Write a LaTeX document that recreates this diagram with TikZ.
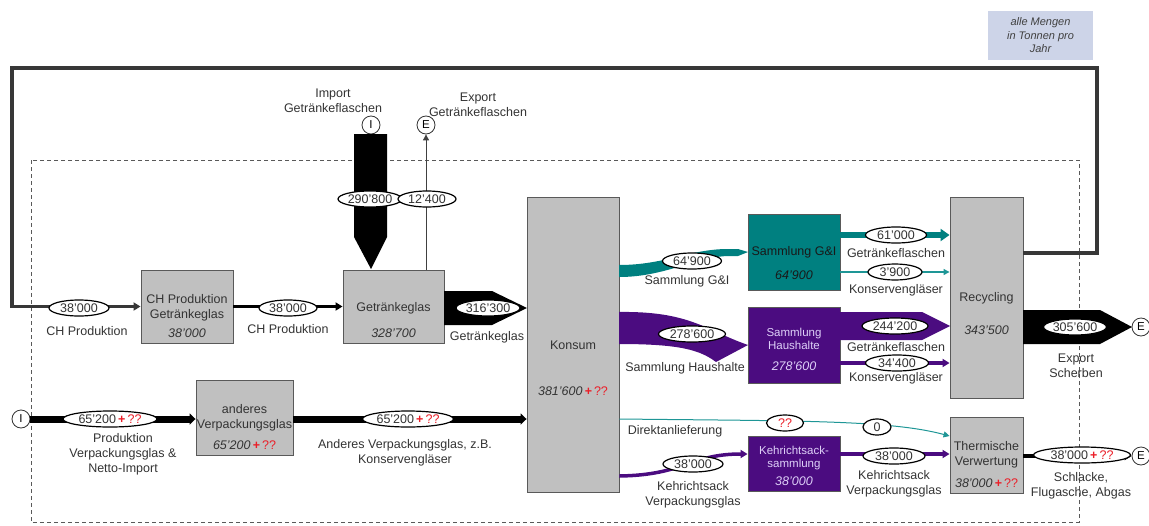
\documentclass[tikz,border=0pt]{standalone}
\usepackage{fontspec}
\setmainfont{Liberation Sans}
\usetikzlibrary{shapes.geometric,arrows.meta}
\definecolor{tealc}{RGB}{0,128,128}
\definecolor{teall}{RGB}{30,150,150}
\definecolor{purp}{RGB}{75,12,128}
\definecolor{boxgray}{RGB}{192,192,192}
\definecolor{loopc}{RGB}{55,55,55}
\definecolor{qred}{RGB}{235,30,40}
\definecolor{legbg}{RGB}{205,212,232}
\definecolor{lav}{RGB}{222,208,248}
\newcommand{\plusq}{\,{\color{qred}\textbf{+}\,\textup{??}}}
\begin{document}
\begin{tikzpicture}[x=1pt,y=-1pt,
 every node/.style={inner sep=0pt, font=\fontsize{12.5}{15}\selectfont},
 graybox/.style={draw=black!65, fill=boxgray, line width=0.9pt},
 tealbox/.style={draw=black!65, fill=tealc, line width=0.9pt},
 purpbox/.style={draw=black!65, fill=purp, line width=0.9pt},
 val/.style={ellipse, draw=black, fill=white, line width=1.2pt, minimum height=16pt, text=black!80},
 term/.style={circle, draw=black!80, fill=white, line width=0.8pt, minimum size=18pt, font=\fontsize{11.5}{12}\selectfont},
 lbl/.style={align=center, text=black!80},
 num/.style={font=\fontsize{12.5}{15}\selectfont\itshape, text=black!80},
 small/.style={align=center, font=\fontsize{11.5}{13}\selectfont, text=lav},
 tip/.style={-{Triangle[length=7pt,width=8pt]}},
 thintip/.style={-{Triangle[length=6pt,width=6pt]}},
]
\useasboundingbox (0,0) rectangle (1149,525);
% system boundary
\draw[black!65, line width=0.9pt, dash pattern=on 4pt off 3pt] (31,160) rectangle (1079,522);
% legend
\node[fill=legbg, minimum width=105pt, minimum height=49pt, align=center,
      font=\fontsize{11}{13.5}\selectfont\itshape, text=black!75] (legend) at (1040.5,35.5)
      {alle Mengen\\in Tonnen pro\\Jahr};
% boxes
\node[graybox, minimum width=92pt, minimum height=73pt] (chp) at (187,306.5) {};
\node[graybox, minimum width=101pt, minimum height=73pt] (gg) at (393.5,306.5) {};
\node[graybox, minimum width=97pt, minimum height=75pt] (ander) at (244.5,417.5) {};
\node[graybox, minimum width=92pt, minimum height=295pt] (kons) at (573,344.5) {};
\node[tealbox, minimum width=92pt, minimum height=76pt] (sgi) at (794,252) {};
\node[purpbox, minimum width=92pt, minimum height=76pt] (shh) at (794,345) {};
\node[purpbox, minimum width=92pt, minimum height=55pt] (kss) at (794,463.5) {};
\node[graybox, minimum width=73pt, minimum height=201pt] (rec) at (986.5,297.5) {};
\node[graybox, minimum width=73pt, minimum height=76pt] (therm) at (986.5,455) {};
% terminals
\node[term] (impI) at (371,125) {I};
\node[term] (expE) at (426,125) {E};
\node[term] (expE2) at (1141,327) {E};
\node[term] (expE3) at (1141,456) {E};
\node[term] (impI2) at (21,419) {I};
% level coordinates
\coordinate (lpA) at (1097,253);
\coordinate (lpB) at (1097,68);
\coordinate (lpC) at (12,68);
\coordinate (yGIa) at (0,235);
\coordinate (yGIb) at (0,272);
\coordinate (yHHb) at (0,363);
\coordinate (yDa) at (0,419);
\coordinate (yDb) at (0,436);
\coordinate (yKa) at (0,476);
\coordinate (yKb) at (0,454);
% recycling loop
\draw[loopc, line width=3.8pt, tip] (rec.east |- lpA) -- (lpA) -- (lpB) -- (lpC) -- (lpC |- chp.west) -- (chp.west);
% CH production -> Getraenkeglas
\draw[line width=3.8pt, tip] (chp.east) -- (gg.west);
% import block
\fill (354,134) -- (387,134) -- (387,237) -- (371,269) -- (354,237) -- cycle;
% export
\draw[black!75, line width=0.9pt, thintip] (gg.north -| expE) -- (expE.south);
% Getraenkeglas -> Konsum
\fill (444,291) -- (492,291) -- (527,308) -- (492,325) -- (444,325) -- cycle;
% Konsum -> Sammlung G&I
\fill[tealc] (619,265) .. controls (665,265) and (690,249) .. (728,249) -- (738,249)
   -- (748,252) -- (738,256) -- (728,256) .. controls (695,257) and (665,277) .. (619,277) -- cycle;
% Konsum -> Sammlung Haushalte
\fill[purp] (619,312) .. controls (690,311) and (705,330) .. (748,345) -- (716,362)
   .. controls (700,350) and (680,344) .. (619,344) -- cycle;
% G&I -> Recycling
\draw[tealc, line width=6pt, -{Triangle[length=9pt,width=12pt]}] (sgi.east |- yGIa) -- (rec.west |- yGIa);
\draw[teall, line width=1.2pt, thintip] (sgi.east |- yGIb) -- (rec.west |- yGIb);
% Haushalte -> Recycling
\fill[purp] (840,312) -- (922,312) -- (950,326) -- (922,340) -- (840,340) -- cycle;
\draw[purp, line width=3.5pt, tip] (shh.east |- yHHb) -- (rec.west |- yHHb);
% Recycling -> Export Scherben
\fill (1023,310) -- (1100,310) -- (1132,327) -- (1100,344) -- (1023,344) -- cycle;
% Direktanlieferung
\draw[teall, line width=1pt, thintip] (kons.east |- yDa) .. controls (800,421) and (890,420) .. (therm.west |- yDb);
% Kehrichtsack
\draw[purp, line width=3.5pt, tip] (kons.east |- yKa) .. controls (685,475) and (690,454) .. (kss.west |- yKb);
\draw[purp, line width=3.5pt, tip] (kss.east |- yKb) -- (therm.west |- yKb);
% Thermische -> E
\draw[line width=3.8pt, tip] (therm.east |- expE3) -- (expE3.west);
% other packaging glass
\draw[line width=7pt, -{Triangle[length=6pt,width=11pt]}] (impI2.east) -- (ander.west |- impI2);
\draw[line width=7pt, -{Triangle[length=6pt,width=11pt]}] (ander.east |- impI2) -- (kons.west |- impI2);
% value ellipses
\node[val, minimum width=60pt] (v1) at (79,308) {38’000};
\node[val, minimum width=58pt] (v2) at (288,308) {38’000};
\node[val, minimum width=64pt] (v3) at (370,199) {290’800};
\node[val, minimum width=58pt] (v4) at (427,199) {12’400};
\node[val, minimum width=64pt] (v5) at (488,308) {316’300};
\node[val, minimum width=59pt] (v6) at (692,261) {64’900};
\node[val, minimum width=67pt] (v7) at (692,334) {278’600};
\node[val, minimum width=61pt] (v8) at (896,235) {61’000};
\node[val, minimum width=54pt] (v9) at (895,272) {3’900};
\node[val, minimum width=66pt] (v10) at (895,326) {244’200};
\node[val, minimum width=63pt] (v11) at (897,363) {34’400};
\node[val, minimum width=54pt] (v12) at (1075,327) {305’600};
\node[val, minimum width=37pt] (v13) at (785,423) {\color{qred}??};
\node[val, minimum width=28pt] (v14) at (877,427) {0};
\node[val, minimum width=60pt] (v15) at (693,464) {38’000};
\node[val, minimum width=62pt] (v16) at (894,456) {38’000};
\node[val, minimum width=97pt] (v17) at (1082,455) {38’000\plusq};
\node[val, minimum width=94pt] (v18) at (110,419) {65’200\plusq};
\node[val, minimum width=91pt] (v19) at (408,419) {65’200\plusq};
% flow labels
\node[lbl] (l1) at (87,331) {CH Produktion};
\node[lbl] (l2) at (288,329) {CH Produktion};
\node[lbl] (l3) at (333,101) {Import\\Getränkeflaschen};
\node[lbl] (l4) at (478,104.5) {Export\\Getränkeflaschen};
\node[lbl] (l5) at (487,337) {Getränkeglas};
\node[lbl] (l6) at (687,281) {Sammlung G\&I};
\node[lbl] (l7) at (685,368) {Sammlung Haushalte};
\node[lbl] (l8) at (896,253) {Getränkeflaschen};
\node[lbl] (l9) at (896,290) {Konservengläser};
\node[lbl] (l10) at (896,347) {Getränkeflaschen};
\node[lbl] (l11) at (896,378) {Konservengläser};
\node[lbl] (l12) at (1076,365.5) {Export\\Scherben};
\node[lbl] (l13) at (675,431) {Direktanlieferung};
\node[lbl] (l14) at (693,494.5) {Kehrichtsack\\Verpackungsglas};
\node[lbl] (l15) at (894,483.5) {Kehrichtsack\\Verpackungsglas};
\node[lbl] (l16) at (1081,485.5) {Schlacke,\\Flugasche, Abgas};
\node[lbl] (l17) at (123,454.5) {Produktion\\Verpackungsglas \&\\Netto-Import};
\node[lbl] (l18) at (405,452.5) {Anderes Verpackungsglas, z.B.\\Konservengläser};
% box texts
\node[lbl] (t1) at (187,307.5) {CH Produktion\\Getränkeglas};
\node[num] (t1n) at (187,333) {38’000};
\node[lbl] (t2) at (393.5,308) {Getränkeglas};
\node[num] (t2n) at (393.5,333) {328’700};
\node[lbl] (t3) at (244.5,417.5) {anderes\\Verpackungsglas};
\node[num] (t3n) at (244.5,445) {65’200\plusq};
\node[lbl] (t4) at (573,345) {Konsum};
\node[num] (t4n) at (573,391) {381’600\plusq};
\node[lbl, text=black!90] (t5) at (794,252) {Sammlung G\&I};
\node[num, text=black!90] (t5n) at (794,275) {64’900};
\node[small] (t6) at (794,338.5) {Sammlung\\Haushalte};
\node[num, text=lav] (t6n) at (794,366) {278’600};
\node[small] (t7) at (794,458.5) {Kehrichtsack-\\sammlung};
\node[num, text=lav] (t7n) at (794,481) {38’000};
\node[lbl] (t8) at (986.5,298) {Recycling};
\node[num] (t8n) at (986.5,330) {343’500};
\node[lbl] (t9) at (986.5,454.5) {Thermische\\Verwertung};
\node[num] (t9n) at (986.5,483) {38’000\plusq};
\end{tikzpicture}
\end{document}
